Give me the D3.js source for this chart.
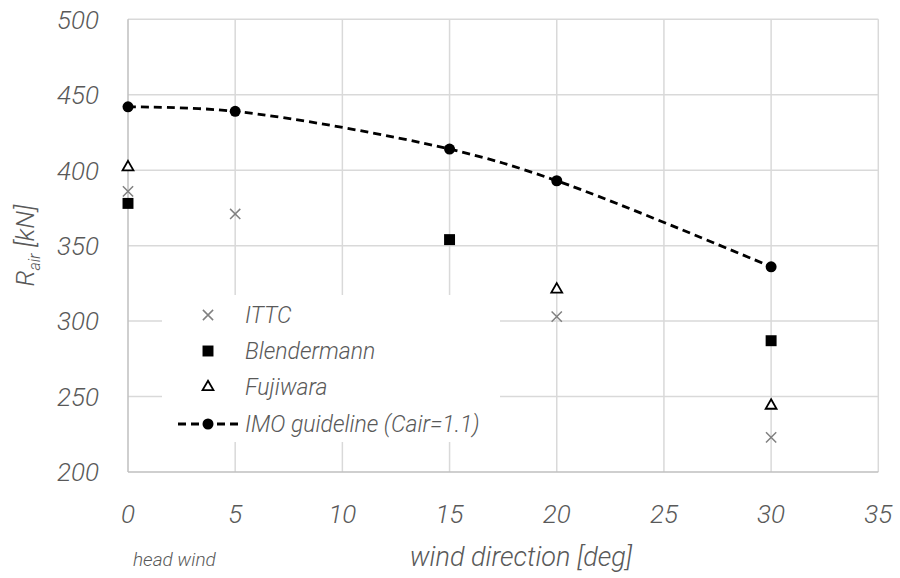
<!DOCTYPE html>
<html>
<head>
<meta charset="utf-8">
<script src="https://cdn.jsdelivr.net/npm/d3@7"></script>
<style>
  body { margin: 0; background: #fff; }
  text { font-family: Roboto, "DejaVu Sans Condensed", sans-serif; font-style: italic; font-weight: 300; fill: #595959; }
</style>
</head>
<body>
<div class="container"></div>
<script>
// wind direction [deg]
var ittcX = [0, 5, 20, 30],
    ittcY = [386, 371, 303, 223];
var blendX = [0, 15, 30],
    blendY = [378, 354, 287];
var fujiX = [0, 20, 30],
    fujiY = [402, 321, 244];
var imoX = [0, 5, 15, 20, 30],
    imoY = [442, 439, 414, 393, 336];
var xTicks = [0, 5, 10, 15, 20, 25, 30, 35],
    yTicks = [200, 250, 300, 350, 400, 450, 500];
var legendNames = ["ITTC", "Blendermann", "Fujiwara", "IMO guideline (Cair=1.1)"];

var width = 900, height = 578;
var margin = {top: 19.3, right: 22, bottom: 106, left: 128};

var svg = d3.select("div.container").append("svg")
    .attr("width", width)
    .attr("height", height);

var x = d3.scaleLinear().domain([0, 35]).range([margin.left, 878.3]);
var y = d3.scaleLinear().domain([200, 500]).range([472, margin.top]);

var grid = svg.append("g");
// horizontal grid
grid.selectAll(".hg")
    .data(yTicks.filter(function(d) { return d > 200; }))
    .enter().append("line")
    .attr("x1", x(0)).attr("x2", x(35))
    .attr("y1", function(d) { return y(d); })
    .attr("y2", function(d) { return y(d); })
    .attr("stroke", "#d9d9d9").attr("stroke-width", 1.5);
// vertical grid
grid.selectAll(".vg")
    .data(xTicks.filter(function(d) { return d > 0; }))
    .enter().append("line")
    .attr("y1", y(200)).attr("y2", y(500))
    .attr("x1", function(d) { return x(d); })
    .attr("x2", function(d) { return x(d); })
    .attr("stroke", "#d9d9d9").attr("stroke-width", 1.5);

// axes lines
svg.append("line").attr("x1", x(0)).attr("x2", x(0)).attr("y1", y(200)).attr("y2", y(500))
    .attr("stroke", "#bfbfbf").attr("stroke-width", 1.5);
svg.append("line").attr("x1", x(0)).attr("x2", x(35)).attr("y1", y(200)).attr("y2", y(200))
    .attr("stroke", "#bfbfbf").attr("stroke-width", 1.5);

// tick labels
svg.selectAll(".ytl")
    .data(yTicks)
    .enter().append("text")
    .attr("x", 99)
    .attr("y", function(d) { return y(d); })
    .attr("dy", "0.36em")
    .attr("text-anchor", "end")
    .attr("font-size", 26)
    .text(function(d) { return d; });

svg.selectAll(".xtl")
    .data(xTicks)
    .enter().append("text")
    .attr("x", function(d) { return x(d); })
    .attr("y", 523)
    .attr("text-anchor", "middle")
    .attr("font-size", 26)
    .text(function(d) { return d; });

// axis titles
svg.append("text")
    .attr("x", 521).attr("y", 566)
    .attr("text-anchor", "middle")
    .attr("font-size", 27)
    .text("wind direction [deg]");

svg.append("text")
    .attr("x", 133).attr("y", 566)
    .attr("font-size", 19)
    .text("head wind");

var yl = svg.append("text")
    .attr("transform", "translate(34," + ((y(200) + y(500)) / 2) + ") rotate(-90)")
    .attr("text-anchor", "middle")
    .attr("font-size", 26);
yl.append("tspan").text("R");
yl.append("tspan").attr("font-size", 16).attr("dy", 6).text("air");
yl.append("tspan").attr("dy", -6).text("  [kN]");

// IMO curve
var line = d3.line()
    .x(function(d) { return x(d[0]); })
    .y(function(d) { return y(d[1]); })
    .curve(d3.curveCatmullRom.alpha(0.5));

svg.append("path")
    .datum(d3.zip(imoX, imoY))
    .attr("d", line)
    .attr("fill", "none")
    .attr("stroke", "#000")
    .attr("stroke-width", 2.8)
    .attr("stroke-dasharray", "8,5");

svg.selectAll(".imo")
    .data(d3.zip(imoX, imoY))
    .enter().append("circle")
    .attr("cx", function(d) { return x(d[0]); })
    .attr("cy", function(d) { return y(d[1]); })
    .attr("r", 5.5)
    .attr("fill", "#000");

var cross = d3.symbol().type(d3.symbolX).size(70);
var square = d3.symbol().type(d3.symbolSquare).size(120);
var tri = d3.symbol().type(d3.symbolTriangle2).size(85);

function drawMarkers(xs, ys, sym, fill, stroke, sw) {
    svg.append("g").selectAll("path")
        .data(d3.zip(xs, ys))
        .enter().append("path")
        .attr("d", sym)
        .attr("transform", function(d) { return "translate(" + x(d[0]) + "," + y(d[1]) + ")"; })
        .attr("fill", fill)
        .attr("stroke", stroke)
        .attr("stroke-width", sw);
}
drawMarkers(ittcX, ittcY, cross, "none", "#808080", 1.5);
drawMarkers(blendX, blendY, square, "#000", "none", 0);
drawMarkers(fujiX, fujiY, tri, "#fff", "#000", 1.8);

// legend
var lg = svg.append("g");
lg.append("rect")
    .attr("x", 162).attr("y", 295).attr("width", 338).attr("height", 147)
    .attr("fill", "#fff");
var ly = [315, 351, 387, 424];
legendNames.forEach(function(n, i) {
    lg.append("text")
        .attr("x", 245).attr("y", ly[i])
        .attr("dy", "0.36em")
        .attr("font-size", 23)
        .text(n);
});
lg.append("path").attr("d", cross).attr("transform", "translate(208," + ly[0] + ")")
    .attr("fill", "none").attr("stroke", "#808080").attr("stroke-width", 1.5);
lg.append("path").attr("d", square).attr("transform", "translate(208," + ly[1] + ")")
    .attr("fill", "#000");
lg.append("path").attr("d", tri).attr("transform", "translate(208," + ly[2] + ")")
    .attr("fill", "#fff").attr("stroke", "#000").attr("stroke-width", 1.8);
lg.append("line").attr("x1", 178).attr("x2", 238).attr("y1", ly[3]).attr("y2", ly[3])
    .attr("stroke", "#000").attr("stroke-width", 2.8).attr("stroke-dasharray", "8,5");
lg.append("circle").attr("cx", 208).attr("cy", ly[3]).attr("r", 5.5).attr("fill", "#000");
</script>
</body>
</html>
